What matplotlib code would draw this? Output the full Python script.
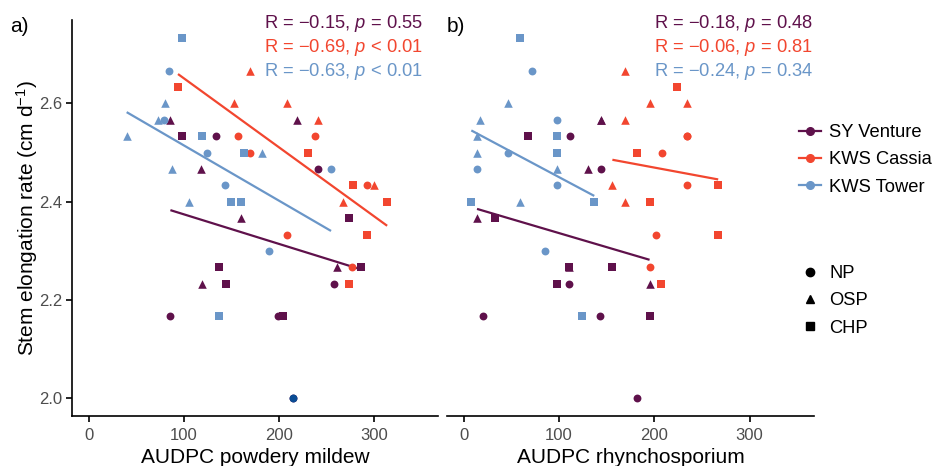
import matplotlib
matplotlib.use("Agg")
import matplotlib.pyplot as plt
from matplotlib.lines import Line2D
import numpy as np

plt.rcParams['font.family'] = ['Liberation Sans', 'DejaVu Sans']
plt.rcParams['mathtext.fontset'] = 'custom'
plt.rcParams['mathtext.rm'] = 'Liberation Sans'
plt.rcParams['mathtext.it'] = 'Liberation Sans:italic'

# ---------------- data ----------------
varieties = ["SY Venture", "KWS Cassia", "KWS Tower"]
treatments = ["NP", "OSP", "CHP"]
xticks = [0, 100, 200, 300]
yticks = [2.0, 2.2, 2.4, 2.6]

# treatment of each observation (same order for each variety)
trt = ["NP"] * 6 + ["OSP"] * 6 + ["CHP"] * 6

venture_y = [2.533, 2.467, 2.233, 2.167, 2.167, 2.000,
             2.567, 2.567, 2.467, 2.367, 2.267, 2.233,
             2.533, 2.367, 2.267, 2.267, 2.233, 2.167]
venture_pm = [134, 241, 258, 86, 199, 215,
              86, 219, 118, 160, 261, 119,
              98, 274, 137, 287, 144, 204]
venture_rh = [112, 144, 111, 20, 143, 182,
              144, 144, 130, 14, 111, 195,
              67, 33, 111, 156, 98, 195]

cassia_y = [2.533, 2.533, 2.500, 2.433, 2.333, 2.267,
            2.667, 2.600, 2.600, 2.567, 2.433, 2.400,
            2.633, 2.500, 2.433, 2.400, 2.333, 2.233]
cassia_pm = [157, 238, 170, 293, 209, 277,
             170, 153, 209, 241, 300, 268,
             94, 231, 278, 314, 293, 274]
cassia_rh = [234, 234, 208, 234, 202, 195,
             169, 195, 234, 169, 156, 169,
             224, 182, 267, 195, 267, 207]

tower_y = [2.667, 2.567, 2.500, 2.467, 2.433, 2.300,
           2.600, 2.567, 2.533, 2.500, 2.467, 2.400,
           2.733, 2.533, 2.500, 2.400, 2.400, 2.167]
tower_pm = [85, 79, 124, 255, 143, 190,
            80, 73, 40, 182, 88, 106,
            98, 119, 163, 150, 160, 137]
tower_rh = [72, 98, 46, 14, 98, 85,
            46, 17, 14, 14, 98, 59,
            59, 98, 98, 8, 137, 124]

labels_pm = ["R = \u22120.15, $\\mathit{p}$ = 0.55",
             "R = \u22120.69, $\\mathit{p}$ < 0.01",
             "R = \u22120.63, $\\mathit{p}$ < 0.01"]
labels_rh = ["R = \u22120.18, $\\mathit{p}$ = 0.48",
             "R = \u22120.06, $\\mathit{p}$ = 0.81",
             "R = \u22120.24, $\\mathit{p}$ = 0.34"]

# ---------------- style ----------------
colors = ["#5f114b", "#f2462f", "#6a96c8"]
odd_color = "#0a4c94"
markers = {"NP": "o", "OSP": "^", "CHP": "s"}
msize = {"NP": 32, "OSP": 38, "CHP": 28}

W, H = 935, 466
fig = plt.figure(figsize=(W / 100, H / 100), dpi=100)

def frac(x0, x1, ytop, ybot):
    return [x0 / W, (H - ybot) / H, (x1 - x0) / W, (ybot - ytop) / H]

axA = fig.add_axes(frac(72, 438, 20, 416))
axB = fig.add_axes(frac(447, 814, 20, 416))

ys = [venture_y, cassia_y, tower_y]
pms = [venture_pm, cassia_pm, tower_pm]
rhs = [venture_rh, cassia_rh, tower_rh]

for ax, xs_all, labels, xt in [(axA, pms, labels_pm, 423), (axB, rhs, labels_rh, 813)]:
    for i in range(3):
        x = np.array(xs_all[i], float)
        y = np.array(ys[i], float)
        t = np.array(trt)
        for tr in treatments:
            m = t == tr
            ax.scatter(x[m], y[m], marker=markers[tr], s=msize[tr],
                       color=colors[i], linewidths=0, zorder=3)
        b, a = np.polyfit(x, y, 1)
        xx = np.array([x.min(), x.max()])
        ax.plot(xx, a + b * xx, color=colors[i], lw=1.6, zorder=2,
                solid_capstyle='butt')
    x0, x1 = ax.get_position().x0 * W, ax.get_position().x1 * W
    for i, (lab, py) in enumerate(zip(labels, [23, 47, 71])):
        ax.text((xt - x0) / (x1 - x0), (416 - py) / 396, lab, color=colors[i],
                ha='right', va='center', fontsize=13.2, transform=ax.transAxes)

# the odd-coloured point in panel a
axA.scatter([venture_pm[5]], [venture_y[5]], marker='o', s=32,
            color=odd_color, linewidths=0, zorder=4)

for ax in (axA, axB):
    ax.set_xlim(-17.5, 367.5)
    ax.set_ylim(1.9633, 2.7700)
    ax.set_xticks(xticks)
    ax.set_xticklabels([str(v) for v in xticks])
    for s in ['top', 'right']:
        ax.spines[s].set_visible(False)
    ax.spines['bottom'].set_linewidth(1.2)
    ax.spines['left'].set_linewidth(1.2)
    ax.tick_params(axis='both', direction='out', length=4, width=1.2,
                   labelsize=12, colors='black', labelcolor='#4d4d4d', pad=3)
    ax.tick_params(axis='x', pad=5)

axA.set_yticks(yticks)
axA.set_yticklabels(["%.1f" % v for v in yticks])
axA.set_ylabel("Stem elongation rate (cm d$^{-1}$)", fontsize=15, labelpad=-1)
axA.set_xlabel("AUDPC powdery mildew", fontsize=15, labelpad=3)

axB.spines['left'].set_visible(False)
axB.set_yticks([])
axB.set_xlabel("AUDPC rhynchosporium", fontsize=15, labelpad=3)

fig.text(10 / W, 1 - 27 / H, "a)", fontsize=15, va='center', ha='left')
fig.text(447 / W, 1 - 27 / H, "b)", fontsize=15, va='center', ha='left')

h1 = [Line2D([], [], color=c, lw=1.6, marker='o', markersize=5.5) for c in colors]
fig.legend(h1, varieties, loc='upper left', frameon=False,
           bbox_to_anchor=(799 / W, 1 - 124 / H), fontsize=13.2,
           handlelength=1.2, handletextpad=0.45, labelspacing=0.56,
           borderaxespad=0, borderpad=0)
h2 = [Line2D([], [], color='black', lw=0, marker=markers[t], markersize=6) for t in treatments]
fig.legend(h2, treatments, loc='upper left', frameon=False,
           bbox_to_anchor=(799 / W, 1 - 265 / H), fontsize=13.2,
           handlelength=1.2, handletextpad=0.45, labelspacing=0.56,
           borderaxespad=0, borderpad=0)

fig.savefig("out.png", dpi=100)
